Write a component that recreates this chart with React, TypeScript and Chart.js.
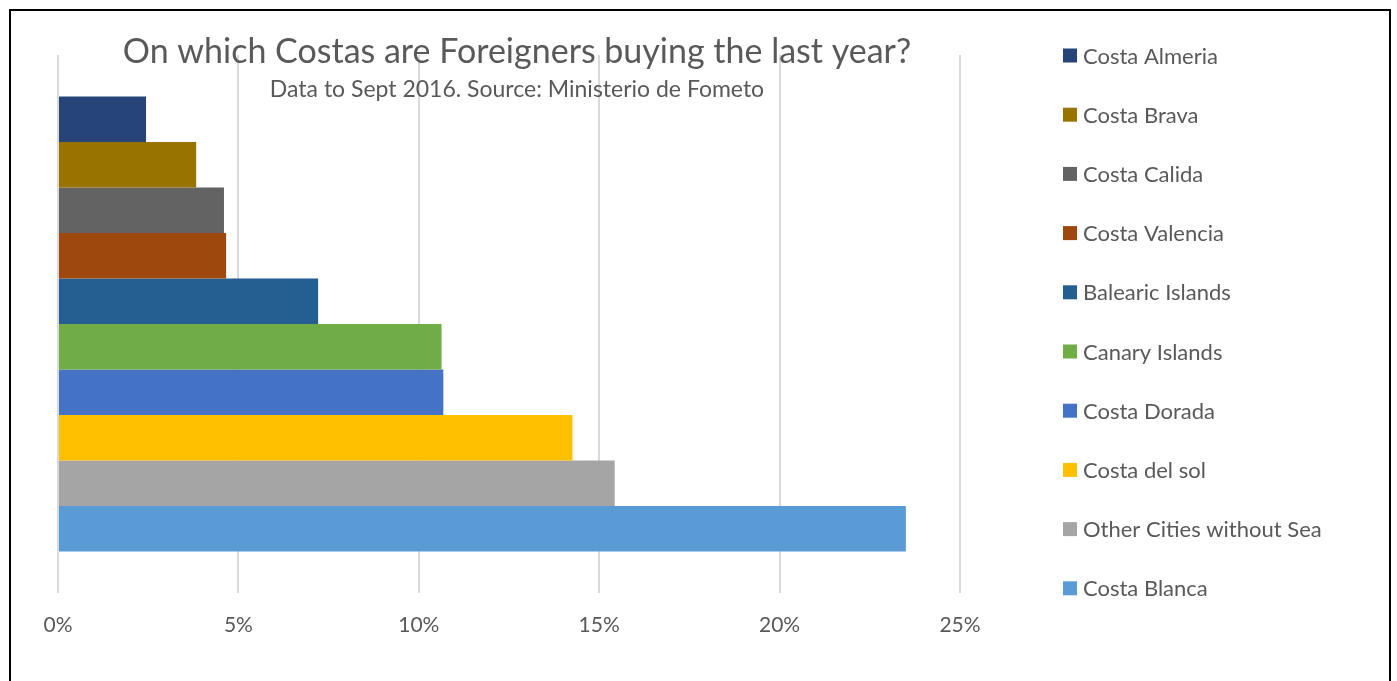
import React, { useEffect, useRef } from "react";
import { Chart, registerables } from "chart.js";

Chart.register(...registerables);

const titleText = "On which Costas are Foreigners buying the last year?";
const subtitleText = "Data to Sept 2016. Source: Ministerio de Fometo";
const categories = [""];
const seriesNames = [
  "Costa Almeria",
  "Costa Brava",
  "Costa Calida",
  "Costa Valencia",
  "Balearic Islands",
  "Canary Islands",
  "Costa Dorada",
  "Costa del sol",
  "Other Cities without Sea",
  "Costa Blanca",
];
const seriesValues = [2.44, 3.83, 4.6, 4.66, 7.21, 10.63, 10.68, 14.26, 15.43, 23.5];
const seriesColors = [
  "#264478",
  "#997300",
  "#636363",
  "#9E480E",
  "#255E91",
  "#70AD47",
  "#4472C4",
  "#FFC000",
  "#A5A5A5",
  "#5B9BD5",
];
const xMin = 0;
const xMax = 25;
const xStep = 5;

const FONT = "Lato, 'Open Sans', sans-serif";
const TEXT = "#595959";

const decorPlugin = {
  id: "decor",
  afterDraw(chart: any) {
    const ctx = chart.ctx as CanvasRenderingContext2D;
    const area = chart.chartArea;
    ctx.save();
    // frame
    ctx.strokeStyle = "#000";
    ctx.lineWidth = 2;
    ctx.strokeRect(10, 10, 1380, 700);
    // title
    const cx = (area.left + area.right) / 2 + 8;
    ctx.fillStyle = TEXT;
    ctx.textAlign = "center";
    ctx.textBaseline = "alphabetic";
    ctx.font = `34px ${FONT}`;
    ctx.fillText(titleText, cx, 63);
    ctx.font = `23px ${FONT}`;
    ctx.fillText(subtitleText, cx, 97);
    // legend
    ctx.textAlign = "left";
    ctx.textBaseline = "middle";
    ctx.font = `22px ${FONT}`;
    const ds = chart.data.datasets;
    ds.forEach((d: any, i: number) => {
      const y = 55.5 + i * 59.2;
      ctx.fillStyle = d.backgroundColor;
      ctx.fillRect(1063, y - 7, 14, 14);
      ctx.fillStyle = TEXT;
      ctx.fillText(d.label, 1083, y + 1);
    });
    ctx.restore();
  },
};

export default function App() {
  const ref = useRef<HTMLCanvasElement | null>(null);
  useEffect(() => {
    if (!ref.current) return;
    const chart = new Chart(ref.current, {
      type: "bar",
      data: {
        labels: categories,
        datasets: seriesNames.map((name, i) => ({
          label: name,
          data: [seriesValues[i]],
          backgroundColor: seriesColors[i],
          borderWidth: 0,
          categoryPercentage: 0.846,
          barPercentage: 1,
        })),
      },
      options: {
        indexAxis: "y",
        animation: false,
        responsive: false,
        maintainAspectRatio: false,
        layout: { padding: { left: 58, right: 437, top: 55, bottom: 23 } },
        plugins: {
          legend: { display: false },
          title: { display: false },
          tooltip: { enabled: false },
        },
        scales: {
          x: {
            min: xMin,
            max: xMax,
            border: { display: false },
            grid: { color: "#d9d9d9", lineWidth: 2, drawTicks: false },
            ticks: {
              stepSize: xStep,
              padding: 20,
              color: TEXT,
              font: { family: FONT, size: 21, lineHeight: 1.2 },
              callback: (v: any) => `${v}%`,
            },
          },
          y: { display: false, grid: { display: false } },
        },
      },
      plugins: [decorPlugin],
    });
    return () => chart.destroy();
  }, []);
  return (
    <div style={{ position: "fixed", left: 0, top: 0, width: 1397, height: 681, background: "#fff" }}>
      <canvas ref={ref} width={1397} height={681} style={{ width: 1397, height: 681, display: "block" }} />
    </div>
  );
}
